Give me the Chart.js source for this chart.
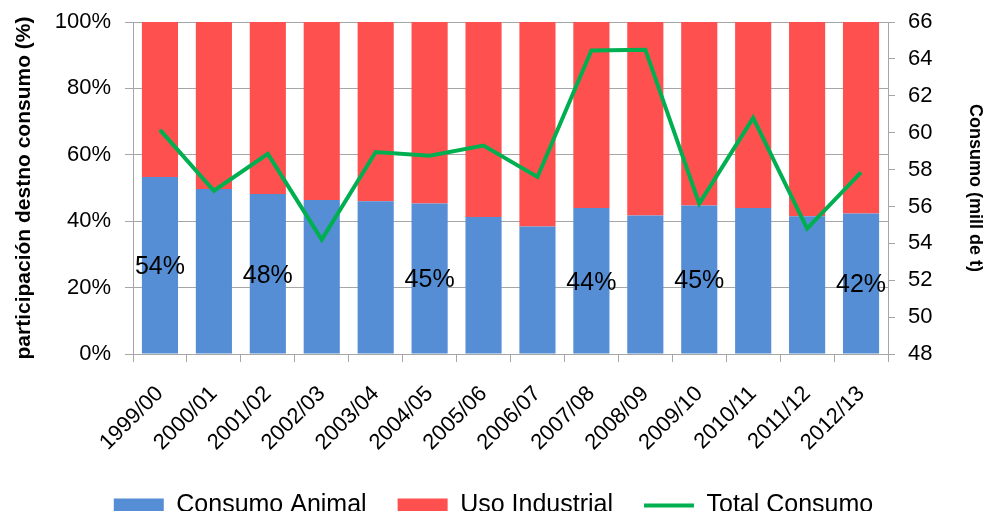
<!DOCTYPE html>
<html>
<head>
<meta charset="utf-8">
<script src="https://cdn.jsdelivr.net/npm/chart.js@4"></script>
<style>
  html,body{margin:0;padding:0;background:#fff;}
  #wrap{width:987px;height:511px;}
</style>
</head>
<body>
<div id="wrap"><canvas id="chart" width="987" height="511"></canvas></div>
<script>
// categorias (campañas)
const campanas = ["1999/00","2000/01","2001/02","2002/03","2003/04","2004/05","2005/06",
  "2006/07","2007/08","2008/09","2009/10","2010/11","2011/12","2012/13"];

// participacion (%)
const consumoAnimal = [53.3, 49.7, 48.2, 46.4, 46.0, 45.3, 41.3, 38.4, 44.0, 41.7, 44.7, 44.0, 41.5, 42.3];
const usoIndustrial = [46.7, 50.3, 51.8, 53.6, 54.0, 54.7, 58.7, 61.6, 56.0, 58.3, 55.3, 56.0, 58.5, 57.7];

// consumo total (mill de t)
const totalConsumo = [60.15, 56.85, 58.85, 54.2, 58.95, 58.75, 59.3, 57.6, 64.45, 64.5, 56.15, 60.8, 54.8, 57.85];

// etiquetas sobre las barras azules
const etiquetas = ["54%", null, "48%", null, null, "45%", null, null, "44%", null, "45%", null, null, "42%"];

const leftTicks = {min:0, max:100, step:20};
const rightTicks = {min:48, max:66, step:2};

const gris = "#a6a6a6";

// dibuja los % en el centro del tramo azul
const etiquetasPlugin = {
  id: "etiquetas",
  afterDatasetsDraw(chart){
    const meta = chart.getDatasetMeta(0);
    const ctx = chart.ctx;
    ctx.save();
    ctx.font = "25px 'Liberation Sans', Arial, sans-serif";
    ctx.fillStyle = "#000";
    ctx.textAlign = "center";
    ctx.textBaseline = "middle";
    meta.data.forEach((bar,i)=>{
      if(!etiquetas[i]) return;
      ctx.fillText(etiquetas[i], bar.x, (bar.y+bar.base)/2 + 2);
    });
    ctx.restore();
  }
};

Chart.defaults.font.family = "'Liberation Sans', Arial, sans-serif";
Chart.defaults.color = "#000";

// ancho fijo del eje y sin margen extra arriba/abajo
function fijarAncho(w){
  return (s)=>{ s.width = w; s.paddingTop = 0; s.paddingBottom = 0; };
}

new Chart(document.getElementById("chart"), {
  type: "bar",
  data: {
    labels: campanas,
    datasets: [
      {label:"Consumo Animal", data:consumoAnimal, backgroundColor:"#558ED5", borderWidth:0,
        stack:"s", yAxisID:"y", order:1, pointStyle:"rect", barPercentage:0.67, categoryPercentage:1},
      {label:"Uso Industrial", data:usoIndustrial, backgroundColor:"#FF5050", borderWidth:0,
        stack:"s", yAxisID:"y", order:1, pointStyle:"rect", barPercentage:0.67, categoryPercentage:1},
      {label:"Total Consumo", type:"line", data:totalConsumo, borderColor:"#00B050", backgroundColor:"#00B050",
        borderWidth:4, pointRadius:0, tension:0, yAxisID:"y1", order:0, pointStyle:"line"}
    ]
  },
  options: {
    responsive:false,
    animation:false,
    layout:{padding:{top:22, right:0, left:0, bottom:-17}},
    plugins:{
      tooltip:{enabled:false},
      legend:{
        position:"bottom",
        labels:{
          usePointStyle:true, pointStyleWidth:50, boxHeight:14,
          font:{size:25}, color:"#000", padding:31,
          sort:(a,b)=>a.datasetIndex-b.datasetIndex
        }
      }
    },
    scales:{
      x:{
        stacked:true,
        grid:{drawOnChartArea:false, color:gris, tickLength:8, offset:true},
        border:{color:gris},
        ticks:{minRotation:45, maxRotation:45, font:{size:22}, padding:19},
        afterFit:(s)=>{ s.height = 108; }
      },
      y:{
        stacked:true, position:"left",
        min:leftTicks.min, max:leftTicks.max,
        ticks:{stepSize:leftTicks.step, callback:(v)=>v+"%", font:{size:22}, padding:14},
        grid:{color:gris, tickLength:8},
        border:{color:gris},
        title:{display:true, text:"participación destno consumo (%)", font:{size:21, weight:"bold"}, padding:{top:12,bottom:4}},
        afterFit:fijarAncho(133)
      },
      y1:{
        position:"right",
        min:rightTicks.min, max:rightTicks.max,
        ticks:{stepSize:rightTicks.step, font:{size:22}, padding:13},
        grid:{drawOnChartArea:false, color:gris, tickLength:7},
        border:{color:gris},
        title:{display:true, text:"Consumo (mill de t)", font:{size:18, weight:"bold"}, padding:{top:1,bottom:4}},
        afterFit:fijarAncho(99)
      }
    }
  },
  plugins:[etiquetasPlugin]
});
</script>
</body>
</html>
